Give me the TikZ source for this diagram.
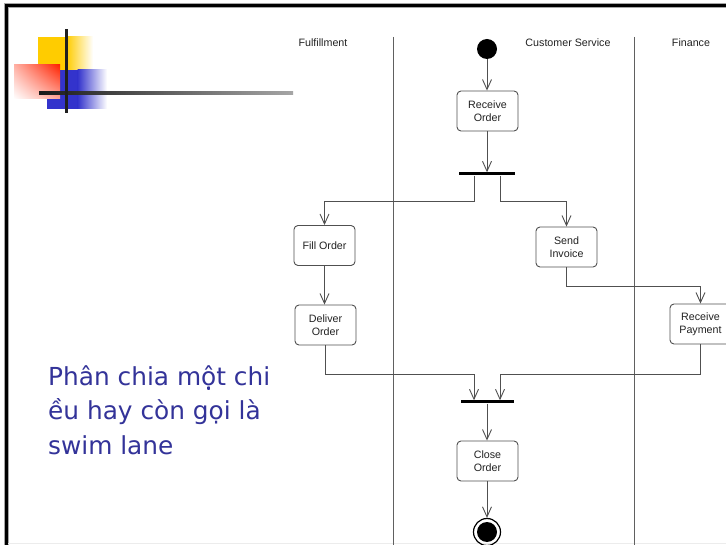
\documentclass[tikz,border=0pt]{standalone}
\usepackage{fontspec}
\newfontfamily\vietfont{DejaVu Sans}
\newfontfamily\umlfont{Liberation Sans}
\usetikzlibrary{arrows.meta,positioning,shadings}

\definecolor{slideblue}{HTML}{333399}
\definecolor{deco yellow}{HTML}{FFCC00}
\definecolor{deco blue}{HTML}{3333CC}
\definecolor{deco red}{HTML}{FF2200}
\definecolor{umlline}{HTML}{505050}
\definecolor{umltext}{HTML}{222222}
\definecolor{laneline}{HTML}{606060}

\tikzset{
  action/.style={draw=umlline, line width=0.9pt, rounded corners=4pt,
    minimum width=61pt, minimum height=40pt, inner sep=0pt,
    align=center, text=umltext,
    font=\umlfont\fontsize{10.7}{13}\selectfont},
  bar/.style={fill=black, draw=none, minimum height=3pt, inner sep=0pt},
  flow/.style={draw=umlline, line width=0.9pt,
    -{Straight Barb[length=10pt,width=9pt,line width=0.9pt]}},
  lane/.style={draw=laneline, line width=1pt},
  lanehead/.style={text=umltext, font=\umlfont\fontsize{10.7}{13}\selectfont},
}

\begin{document}
\begin{tikzpicture}[x=1pt,y=-1pt]
  \clip (0,0) rectangle (726,545);
  \fill[white] (0,0) rectangle (726,545);

  % slide frame
  \draw[gray!70, line width=5pt] (6.5,560) |- (740,5.5);
  \draw[black, line width=3pt] (6.5,560) |- (740,5.5);
  \draw[gray!15, line width=1.5pt] (8,543.5) -- (726,543.5);

  % corner decoration
  \fill[deco yellow] (38,37) rectangle (67,70);
  \shade[left color=deco yellow, right color=white] (66.5,37) rectangle (93,70);
  \fill[deco blue] (47,70) rectangle (78,109);
  \shade[left color=deco blue, right color=white] (77.5,70) rectangle (107,109);
  \shade[upper right=deco red, upper left=deco red!35, lower right=deco red!40,
         lower left=white] (14,65) rectangle (60,99);
  \shade[left color=black!90, right color=black!35] (39,91.3) rectangle (293,95);
  \fill[black!88] (65,29) rectangle (68.3,113);

  % caption (base anchor sits on the last line)
  \node[anchor=base west, text=slideblue, align=left,
        font=\vietfont\fontsize{24.8}{34.5}\selectfont, inner sep=0pt]
    (caption) at (48,454) {Phân chia một chi\\ều hay còn gọi là\\swim lane};

  % swim lanes
  \coordinate (laneA top) at (393,37);
  \coordinate (laneA bot) at (393,545);
  \coordinate (laneB top) at (634,37);
  \coordinate (laneB bot) at (634,545);
  \draw[lane] (laneA top) -- (laneA bot);
  \draw[lane] (laneB top) -- (laneB bot);
  \node[lanehead] (h1) at (323,43) {Fulfillment};
  \node[lanehead] (h2) at (568,43) {Customer Service};
  \node[lanehead] (h3) at (691,43) {Finance};

  % activity nodes
  \node[circle, fill=black, minimum size=20pt, inner sep=0pt] (start) at (487,49) {};
  \node[action] (recv) at (487.5,111) {Receive\\Order};
  \node[bar, minimum width=56pt] (fork) at (487,174) {};
  \node[action] (fill) at (324.5,245.5) {Fill Order};
  \node[action] (send) at (566.5,247) {Send\\Invoice};
  \node[action] (deliver) at (325.5,325) {Deliver\\Order};
  \node[action] (payment) at (700.5,324) {Receive\\Payment};
  \node[bar, minimum width=53pt] (join) at (487,402) {};
  \node[action] (close) at (487.5,461) {Close\\Order};
  \node[circle, draw=black, line width=1.2pt, minimum size=27pt, inner sep=0pt] (end) at (487,532) {};
  \fill[black] (end.center) circle (10pt);

  % control flow
  \draw[flow] (start) -- (start |- recv.north);
  \draw[flow] (start |- recv.south) -- (start |- fork.north);
  \draw[flow] ([xshift=-13pt]fork.south) -- ++(0,26) -| (fill.north);
  \draw[flow] ([xshift=13pt]fork.south) -- ++(0,26) -| (send.north);
  \draw[flow] (fill.south) -- (fill.south |- deliver.north);
  \draw[flow] (send.south) -- ++(0,19) -| (payment.north);
  \draw[flow] (deliver.south) -- ++(0,29) -| ([xshift=-13pt]join.north);
  \draw[flow] (payment.south) -- ++(0,30) -| ([xshift=13pt]join.north);
  \draw[flow] (join.south) -- (join.south |- close.north);
  \draw[flow] (join.south |- close.south) -- (end.north);
\end{tikzpicture}
\end{document}
